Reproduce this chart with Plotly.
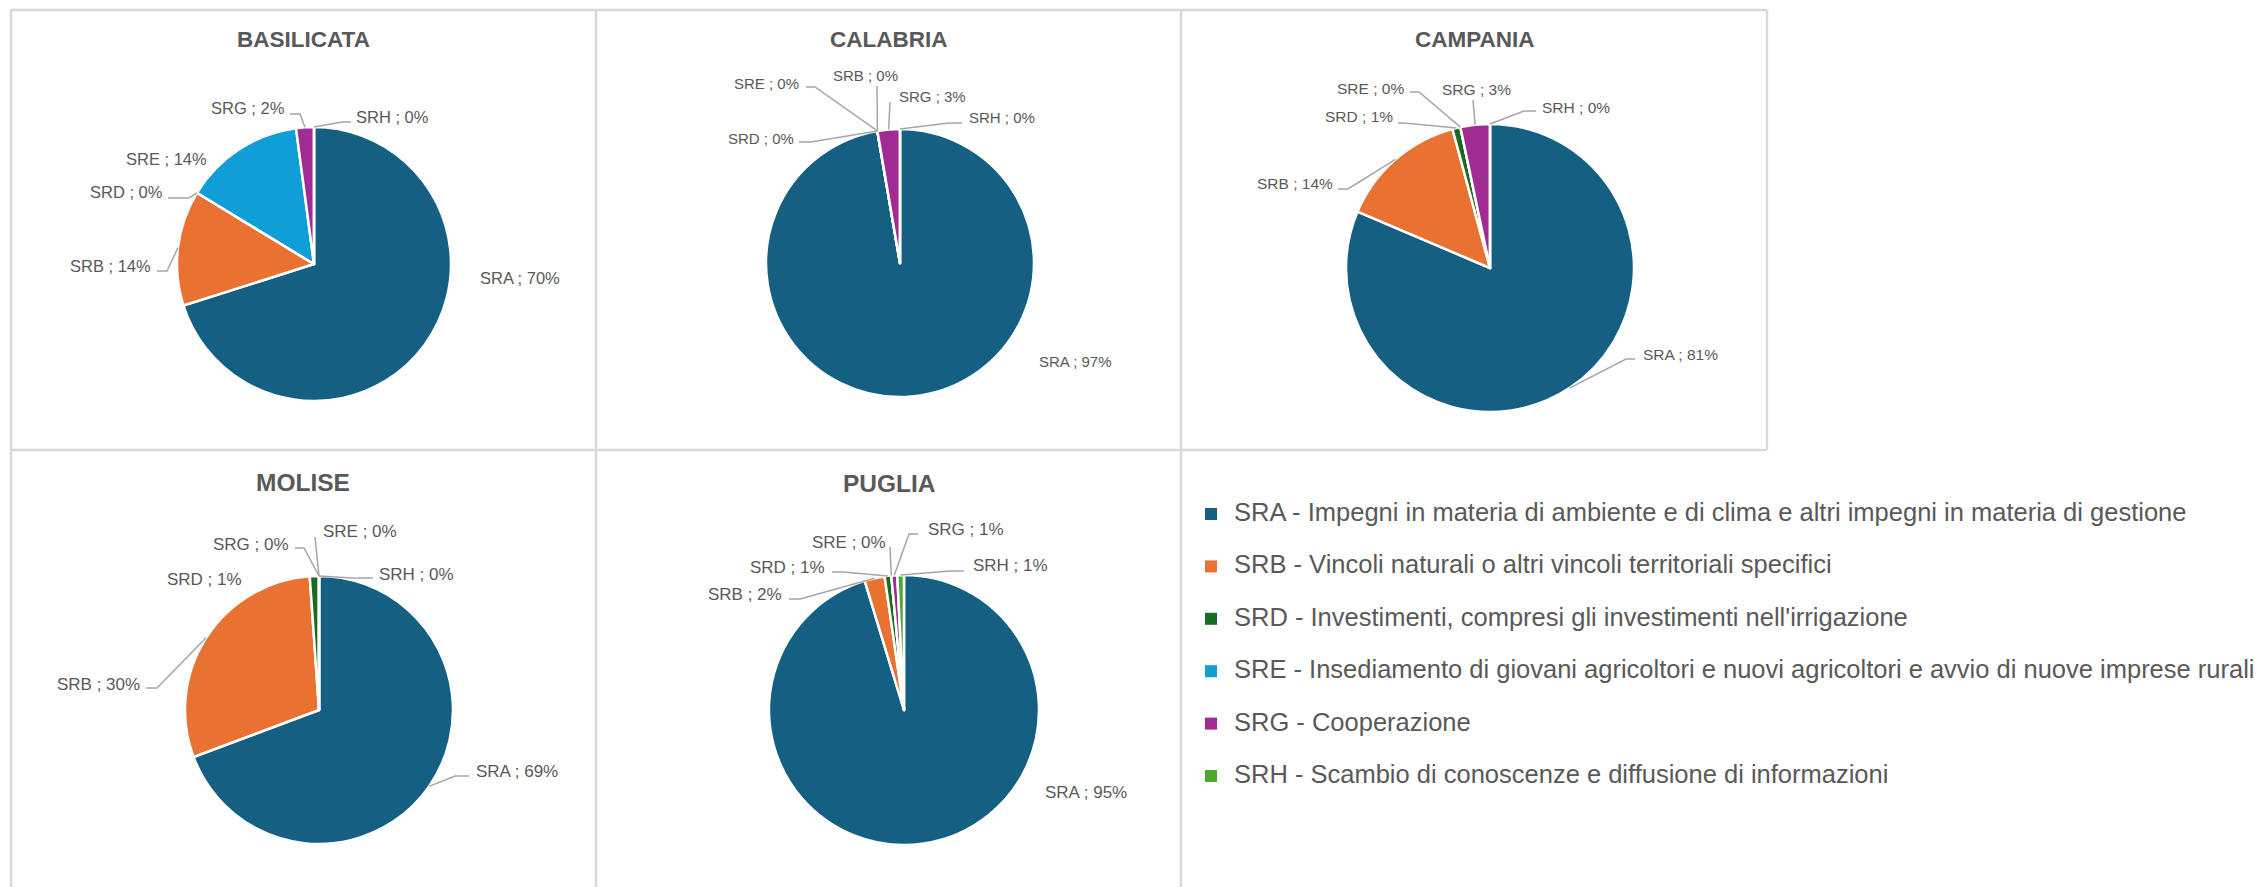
import math
import plotly.graph_objects as go

W, H = 2260, 887

# ---- data -------------------------------------------------------------
codes = ["SRA", "SRB", "SRD", "SRE", "SRG", "SRH"]
descriptions = [
    "SRA - Impegni in materia di ambiente e di clima e altri impegni in materia di gestione",
    "SRB - Vincoli naturali o altri vincoli territoriali specifici",
    "SRD - Investimenti, compresi gli investimenti nell'irrigazione",
    "SRE - Insediamento di giovani agricoltori e nuovi agricoltori e avvio di nuove imprese rurali",
    "SRG - Cooperazione",
    "SRH - Scambio di conoscenze e diffusione di informazioni",
]
colors = ["#156082", "#E97132", "#196B24", "#0F9ED5", "#A02B93", "#4EA72E"]

regions = ["BASILICATA", "CALABRIA", "CAMPANIA", "MOLISE", "PUGLIA"]
basilicata = [70.1, 13.6, 0.0, 14.2, 2.1, 0.0]
calabria = [97.3, 0.0, 0.0, 0.0, 2.7, 0.0]
campania = [81.4, 14.4, 0.9, 0.0, 3.3, 0.0]
molise = [69.3, 29.6, 1.1, 0.0, 0.0, 0.0]
puglia = [95.3, 2.4, 0.8, 0.0, 0.7, 0.8]
shares = [basilicata, calabria, campania, molise, puglia]

# ---- layout of the panels (pixels) -----------------------------------
# centre x, centre y, radius, title centre x, title y, label size, title size
panels = {
    "BASILICATA": dict(cx=314, cy=264, r=137, tx=303, ty=40, fs=16.5, ts=22.5),
    "CALABRIA": dict(cx=900, cy=263, r=134, tx=889, ty=40, fs=15, ts=22.5),
    "CAMPANIA": dict(cx=1490, cy=268, r=144, tx=1475, ty=40, fs=15.5, ts=22.5),
    "MOLISE": dict(cx=319, cy=710, r=134, tx=303, ty=482, fs=17, ts=24.5),
    "PUGLIA": dict(cx=904, cy=710, r=135, tx=889, ty=483, fs=17, ts=24.5),
}

# label placement: text anchor point, anchor side, leader start, leader elbow
label_pos = {
    "BASILICATA": {
        "SRA": (478, 278, "left", None, None),
        "SRB": (153, 266, "right", (157, 271), (167, 271)),
        "SRD": (165, 192, "right", (168, 198), (189, 198)),
        "SRE": (209, 159, "right", None, None),
        "SRG": (287, 108, "right", (290, 114), (300, 114)),
        "SRH": (354, 117, "left", (351, 122), (342, 122)),
    },
    "CALABRIA": {
        "SRA": (1037, 361, "left", None, None),
        "SRB": (831, 75, "left", (877, 86), None),
        "SRD": (796, 138, "right", (799, 142), (811, 142)),
        "SRE": (801, 83, "right", (806, 87), (815, 87)),
        "SRG": (897, 96, "left", (890, 102), None),
        "SRH": (967, 118, "left", (962, 123), (949, 123)),
    },
    "CAMPANIA": {
        "SRA": (1641, 354, "left", (1635, 359), (1626, 359)),
        "SRB": (1335, 183, "right", (1338, 189), (1348, 189)),
        "SRD": (1395, 117, "right", (1398, 123), (1404, 123)),
        "SRE": (1406, 88, "right", (1410, 92), (1419, 92)),
        "SRG": (1440, 90, "left", (1473, 100), None),
        "SRH": (1540, 107, "left", (1536, 111), (1524, 111)),
    },
    "MOLISE": {
        "SRA": (474, 771, "left", (469, 776), (455, 776)),
        "SRB": (142, 684, "right", (146, 688), (157, 688)),
        "SRD": (244, 579, "right", None, None),
        "SRE": (321, 531, "left", (315, 537), None),
        "SRG": (291, 544, "right", (295, 548), (304, 548)),
        "SRH": (377, 574, "left", (373, 578), (352, 578)),
    },
    "PUGLIA": {
        "SRA": (1043, 792, "left", None, None),
        "SRB": (784, 594, "right", (789, 599), (800, 599)),
        "SRD": (827, 567, "right", (832, 572), (843, 572)),
        "SRE": (888, 542, "right", (890, 547), None),
        "SRG": (926, 529, "left", (918, 534), (909, 534)),
        "SRH": (971, 565, "left", (964, 571), (950, 571)),
    },
}

FONT = "Liberation Sans, Arial, sans-serif"
TEXT = "#595959"
LEADER = "#A6A6A6"
BORDER = "#D9D9D9"


def fx(x):
    return x / W


def fy(y):
    return 1 - y / H


fig = go.Figure()
annotations = []
shapes = []

for region, values in zip(regions, shares):
    p = panels[region]
    cx, cy, r = p["cx"], p["cy"], p["r"]
    fig.add_trace(go.Pie(
        labels=codes,
        values=values,
        sort=False,
        direction="clockwise",
        rotation=0,
        marker=dict(colors=colors, line=dict(color="white", width=2.5)),
        textinfo="none",
        hoverinfo="label+percent",
        showlegend=False,
        domain=dict(x=[fx(cx - r), fx(cx + r)], y=[fy(cy + r), fy(cy - r)]),
    ))

    annotations.append(dict(
        x=fx(p["tx"]), y=fy(p["ty"]), xref="paper", yref="paper",
        text=f"<b>{region}</b>", showarrow=False, xanchor="center", yanchor="middle",
        font=dict(family=FONT, size=p["ts"], color=TEXT),
    ))

    total = sum(values)
    cum = 0.0
    for code, v in zip(codes, values):
        mid = (cum + v / 2) / total * 2 * math.pi
        cum += v
        ex = cx + r * math.sin(mid)
        ey = cy - r * math.cos(mid)
        tx, ty, side, start, elbow = label_pos[region][code]
        annotations.append(dict(
            x=fx(tx), y=fy(ty), xref="paper", yref="paper",
            text=f"{code} ; {v:.0f}%", showarrow=False,
            xanchor=side, yanchor="middle",
            font=dict(family=FONT, size=p["fs"], color=TEXT),
        ))
        if start is not None:
            pts = [start] + ([elbow] if elbow else []) + [(ex, ey)]
            path = "M " + " L ".join(f"{fx(a):.6f},{fy(b):.6f}" for a, b in pts)
            shapes.append(dict(type="path", xref="paper", yref="paper", path=path,
                               line=dict(color=LEADER, width=1.5)))

# ---- panel frames ----------------------------------------------------
frame_lines = [
    (11, 10, 11, 887), (596, 10, 596, 887), (1181, 10, 1181, 887),
    (1767, 10, 1767, 450), (11, 10, 1767, 10), (11, 450, 1767, 450),
]
for x0, y0, x1, y1 in frame_lines:
    shapes.append(dict(type="line", xref="paper", yref="paper",
                       x0=fx(x0), y0=fy(y0), x1=fx(x1), y1=fy(y1),
                       line=dict(color=BORDER, width=2.5), layer="below"))

# ---- legend ----------------------------------------------------------
leg_x, leg_y0, leg_dy, box = 1205, 512, 52.4, 12
for i, (desc, col) in enumerate(zip(descriptions, colors)):
    yc = leg_y0 + i * leg_dy
    shapes.append(dict(type="rect", xref="paper", yref="paper",
                       x0=fx(leg_x), x1=fx(leg_x + box),
                       y0=fy(yc + 2 + box / 2), y1=fy(yc + 2 - box / 2),
                       fillcolor=col, line=dict(width=0)))
    annotations.append(dict(
        x=fx(1232), y=fy(yc), xref="paper", yref="paper", text=desc,
        showarrow=False, xanchor="left", yanchor="middle",
        font=dict(family=FONT, size=25.5, color=TEXT),
    ))

fig.update_layout(
    width=W, height=H,
    margin=dict(l=0, r=0, t=0, b=0),
    paper_bgcolor="white", plot_bgcolor="white",
    annotations=annotations, shapes=shapes,
    showlegend=False,
)

fig.write_html("out.html")
